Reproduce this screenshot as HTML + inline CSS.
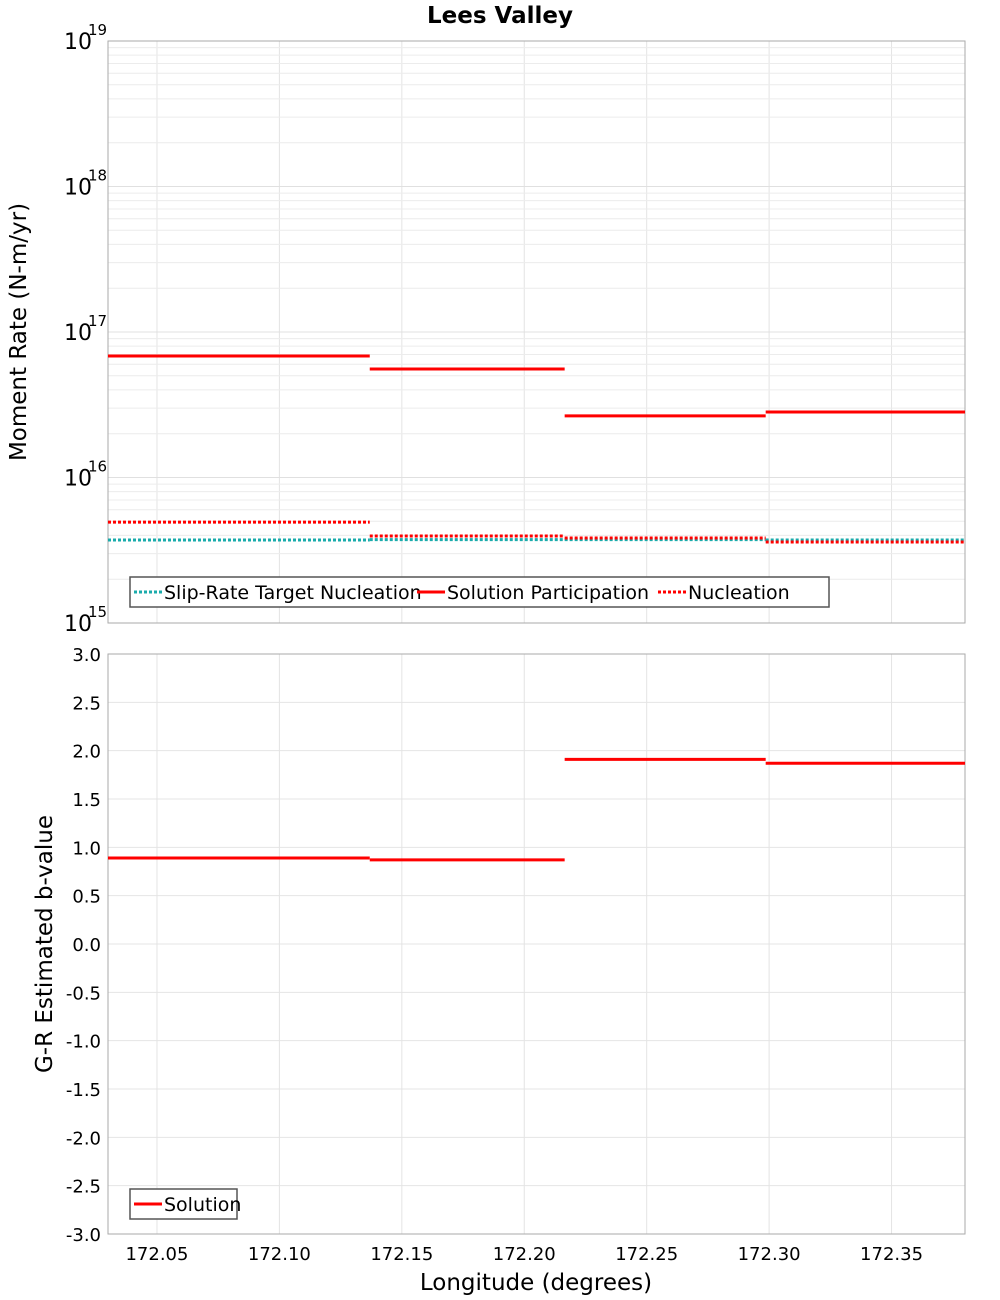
<!DOCTYPE html>
<html><head><meta charset="utf-8"><style>
body{margin:0;background:#fff;}
svg{display:block;font-family:"DejaVu Sans","Liberation Sans",sans-serif;}
</style></head><body>
<svg id="chart" width="1000" height="1300">
<text x="500" y="23" text-anchor="middle" font-size="23" font-weight="bold">Lees Valley</text>
<g id="topPlot"></g>
<g id="botPlot"></g>
<text transform="translate(26,332) rotate(-90)" text-anchor="middle" font-size="23">Moment Rate (N-m/yr)</text>
<text transform="translate(52,944) rotate(-90)" text-anchor="middle" font-size="23">G-R Estimated b-value</text>
<text x="536" y="1290" text-anchor="middle" font-size="23">Longitude (degrees)</text>
</svg>
<script>
const segEdges = [172.03, 172.1369, 172.2165, 172.2986, 172.38];
const participation = [6.84e16, 5.57e16, 2.65e16, 2.82e16];
const nucleation = [4.94e15, 3.96e15, 3.84e15, 3.6e15];
const targetNucleation = [3.72e15, 3.74e15, 3.74e15, 3.72e15];
const bValues = [0.89, 0.87, 1.91, 1.87];
const xTicks = [172.05, 172.10, 172.15, 172.20, 172.25, 172.30, 172.35];
const bTicks = [-3,-2.5,-2,-1.5,-1,-0.5,0,0.5,1,1.5,2,2.5,3];
const logExps = [15,16,17,18,19];

const NS = "http://www.w3.org/2000/svg";
const L = 108, R = 965;
const xMin = 172.03, xMax = 172.38;
const X = v => L + (v - xMin) / (xMax - xMin) * (R - L);
const T0 = 41, T1 = 623;
const Ylog = v => T1 - (Math.log10(v) - 15) / 4 * (T1 - T0);
const B0 = 654, B1 = 1234;
const Yb = v => B1 - (v + 3) / 6 * (B1 - B0);

function mk(parent, tag, attrs) {
  const e = document.createElementNS(NS, tag);
  for (const k in attrs) e.setAttribute(k, attrs[k]);
  parent.appendChild(e); return e;
}
const topG = document.getElementById('topPlot'), botG = document.getElementById('botPlot');
const chartEl = document.getElementById('chart');

for (const t of xTicks) {
  let g = mk(topG, 'line', {x1:X(t), x2:X(t), y1:T0, y2:T1, stroke:'#e4e4e4'});
  
  
  g = mk(botG, 'line', {x1:X(t), x2:X(t), y1:B0, y2:B1, stroke:'#e4e4e4'});
  
  
  const tx = mk(chartEl, 'text', {x:X(t), y:1260, 'text-anchor':'middle', 'font-size':18});
  tx.textContent = t.toFixed(2);
  
  
}
for (let e = 15; e < 19; e++) for (let m = 2; m <= 9; m++) {
  const g = mk(topG, 'line', {x1:L, x2:R, y1:Ylog(m*Math.pow(10,e)), y2:Ylog(m*Math.pow(10,e)), stroke:'#ececec'});
  
  
}
for (const e of logExps) {
  const g = mk(topG, 'line', {x1:L, x2:R, y1:Ylog(Math.pow(10,e)), y2:Ylog(Math.pow(10,e)), stroke:'#e0e0e0'});
  
  
  const t = mk(topG, 'text', {x:64, y:Ylog(Math.pow(10,e))+8, 'font-size':22});
  t.textContent = '10';
  
  
  const s = mk(topG, 'text', {x:88, y:Ylog(Math.pow(10,e))-6, 'font-size':15});
  s.textContent = String(e);
  
  
}
for (const b of bTicks) {
  const g = mk(botG, 'line', {x1:L, x2:R, y1:Yb(b), y2:Yb(b), stroke:'#e4e4e4'});
  
  
  const t = mk(botG, 'text', {x:101, y:Yb(b)+7, 'text-anchor':'end', 'font-size':18});
  t.textContent = b.toFixed(1);
  
  
}
let fr = mk(topG, 'rect', {x:L, y:T0, width:R-L, height:T1-T0, fill:'none', stroke:'#aaa'});


fr = mk(botG, 'rect', {x:L, y:B0, width:R-L, height:B1-B0, fill:'none', stroke:'#aaa'});



function steps(parent, vals, yf, color, dash, name) {
  for (let i = 0; i < vals.length; i++) {
    const a = {x1:X(segEdges[i]), x2:X(segEdges[i+1]), y1:yf(vals[i]), y2:yf(vals[i]), stroke:color, 'stroke-width':3};
    if (dash) a['stroke-dasharray'] = dash;
    const l = mk(parent, 'line', a);
    
    
  }
}
steps(topG, targetNucleation, Ylog, '#1aabab', '3 2', 'target-nucleation');
steps(topG, nucleation, Ylog, '#f00', '3 2', 'nucleation');
steps(topG, participation, Ylog, '#f00', null, 'participation');
steps(botG, bValues, Yb, '#f00', null, 'b-value');

function legend(parent, x, y, w, items, name) {
  const g = mk(parent, 'g', {});
  
  
  mk(g, 'rect', {x:x, y:y, width:w, height:30, fill:'#fff', stroke:'#555', 'stroke-width':1.5});
  let cx = x + 4;
  for (const it of items) {
    const a = {x1:cx, x2:cx+28, y1:y+15, y2:y+15, stroke:it.c, 'stroke-width':3};
    if (it.d) a['stroke-dasharray'] = '3 2';
    mk(g, 'line', a);
    const t = mk(g, 'text', {x:cx+30, y:y+22, 'font-size':19});
    t.textContent = it.t;
    
    
    cx += 30 + it.w;
  }
}
legend(topG, 130, 577, 699, [
  {t:'Slip-Rate Target Nucleation', c:'#1aabab', d:true, w:253},
  {t:'Solution Participation', c:'#f00', d:false, w:211},
  {t:'Nucleation', c:'#f00', d:true, w:110}], 'legend-top');
legend(botG, 130, 1189, 107, [{t:'Solution', c:'#f00', d:false, w:80}], 'legend-bottom');
</script>
</body></html>
